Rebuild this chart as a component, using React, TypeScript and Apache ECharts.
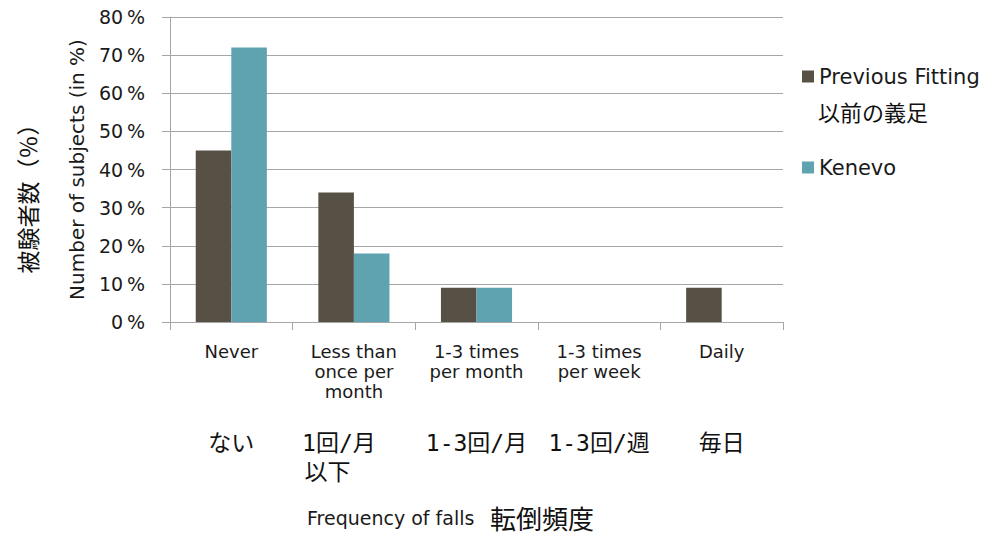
import React, { useEffect, useRef } from "react";
import * as echarts from "echarts";

const categories = ["Never", "Less than\nonce per\nmonth", "1-3 times\nper month", "1-3 times\nper week", "Daily"];
const categoriesJa = ["ない", "1回/月\n以下　", "1-3回/月", "1-3回/週", "毎日"];
const seriesNames = ["Previous Fitting", "Kenevo"];
const previousFitting = [45, 34, 9, 0, 9];
const kenevo = [72, 18, 9, 0, 0];
const previousFittingJa = "以前の義足";
const yTitle = "Number of subjects (in %)";
const yTitleJa = "被験者数（％）";
const xTitle = "Frequency of falls";
const xTitleJa = "転倒頻度";
const yMin = 0;
const yMax = 80;
const yInterval = 10;

const EN = "'DejaVu Sans', 'Liberation Sans', sans-serif";
const JA = "'Noto Sans CJK JP', sans-serif";
const JA_LABEL = "'DejaVu Sans Mono', 'Noto Sans CJK JP', monospace";
const GRID = "#a6a6a6";
const TXT = "#1a1a1a";

export default function App() {
  const ref = useRef<HTMLDivElement>(null);
  useEffect(() => {
    if (!ref.current) return;
    const chart = echarts.init(ref.current, undefined, { renderer: "svg" });
    const jaData = categoriesJa.map((v, i) =>
      i === 1 ? { value: v, textStyle: { padding: [0, 30, 0, 0] } } : v
    );
    chart.setOption({
      animation: false,
      backgroundColor: "#ffffff",
      grid: { left: 170, top: 17, right: 220, bottom: 215, containLabel: false },
      legend: {
        orient: "vertical",
        left: 797,
        top: 61,
        icon: "rect",
        itemWidth: 12,
        itemHeight: 12,
        itemGap: 70,
        textStyle: { fontFamily: EN, fontSize: 21, color: TXT },
        data: seriesNames,
      },
      xAxis: [
        {
          type: "category",
          data: categories,
          axisLine: { lineStyle: { color: GRID, width: 1 } },
          axisTick: { show: true, length: 8, alignWithLabel: false, lineStyle: { color: GRID } },
          axisLabel: {
            interval: 0,
            margin: 19,
            fontFamily: EN,
            fontSize: 18,
            lineHeight: 20,
            color: TXT,
          },
        },
        {
          type: "category",
          data: jaData,
          position: "bottom",
          axisLine: { show: false },
          axisTick: { show: false },
          axisLabel: {
            interval: 0,
            margin: 106,
            fontFamily: JA_LABEL,
            fontSize: 23,
            lineHeight: 29,
            color: "#111",
          },
        },
      ],
      yAxis: {
        type: "value",
        min: yMin,
        max: yMax,
        interval: yInterval,
        name: yTitle,
        nameLocation: "middle",
        nameRotate: 90,
        nameGap: 83,
        nameTextStyle: { fontFamily: EN, fontSize: 20, color: TXT },
        axisLine: { show: true, lineStyle: { color: GRID, width: 1 } },
        axisTick: { show: true, length: 8, lineStyle: { color: GRID } },
        splitLine: { show: true, lineStyle: { color: GRID, width: 1 } },
        axisLabel: {
          margin: 25,
          fontFamily: EN,
          fontSize: 19,
          color: TXT,
          formatter: (v: number) => v + "\u2009%",
        },
      },
      series: [
        {
          name: seriesNames[0],
          type: "bar",
          xAxisIndex: 0,
          data: previousFitting,
          itemStyle: { color: "#575045" },
          barGap: "0%",
          barCategoryGap: "42%",
        },
        {
          name: seriesNames[1],
          type: "bar",
          xAxisIndex: 0,
          data: kenevo,
          itemStyle: { color: "#5fa3b0" },
          barGap: "0%",
          barCategoryGap: "42%",
        },
      ],
      graphic: [
        {
          type: "text",
          left: 818,
          top: 100,
          style: { text: previousFittingJa, font: "22px " + JA, fill: "#111" },
        },
        {
          type: "text",
          x: 27,
          y: 193,
          rotation: Math.PI / 2,
          style: {
            text: yTitleJa,
            font: "23px " + JA,
            fill: "#111",
            align: "center",
            verticalAlign: "middle",
            textAlign: "center",
            textVerticalAlign: "middle",
          },
        },
        {
          type: "text",
          left: 307,
          top: 508,
          style: {
            text: xTitle,
            font: "19px " + EN,
            fill: TXT,
          },
        },
        {
          type: "text",
          left: 490,
          top: 504,
          style: {
            text: xTitleJa,
            font: "26px " + JA,
            fill: "#111",
          },
        },
      ],
    });
    return () => chart.dispose();
  }, []);
  return (
    <div
      ref={ref}
      style={{ position: "fixed", left: 0, top: 0, width: 1003, height: 537, background: "#fff" }}
    />
  );
}
